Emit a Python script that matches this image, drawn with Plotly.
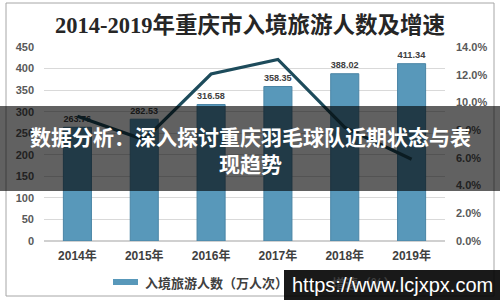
import plotly.graph_objects as go

years = ["2014年", "2015年", "2016年", "2017年", "2018年", "2019年"]
visitors = [263.76, 282.53, 316.58, 358.35, 388.02, 411.34]
growth = [0.090, 0.073, 0.1205, 0.131, 0.082, 0.059]
left_ticks = [0, 50, 100, 150, 200, 250, 300, 350, 400, 450]
right_ticks = [0, 0.02, 0.04, 0.06, 0.08, 0.10, 0.12, 0.14]

title_text = "2014-2019年重庆市入境旅游人数及增速"
bar_name = "入境旅游人数（万人次）"
line_name = "增速（%）"
banner_text = "数据分析：深入探讨重庆羽毛球队近期状态与表<br>现趋势"
watermark = "https://www.lcjxpx.com"

W, H = 500, 300
ML, MR, MT, MB = 44, 55, 47, 59

fig = go.Figure()
fig.add_trace(go.Bar(
    x=years, y=visitors, name=bar_name,
    marker=dict(color="#5898ba", line=dict(color="#4a85a5", width=1)),
    text=[f"{v:.2f}" for v in visitors], textposition="outside",
    textfont=dict(family="Liberation Sans", size=12, color="#404040", weight="bold"),
    cliponaxis=False, width=0.42, showlegend=False,
))
fig.add_trace(go.Scatter(
    x=years, y=growth, name=line_name, yaxis="y2", mode="lines",
    line=dict(color="#1d4b5b", width=3.2), showlegend=False,
))

tickfont = dict(family="Liberation Sans", size=11, color="#595959", weight="bold")
fig.update_layout(
    width=W, height=H, margin=dict(l=ML, r=MR, t=MT, b=MB),
    paper_bgcolor="white", plot_bgcolor="white",
    bargap=0.58,
    xaxis=dict(showgrid=False, showline=False, ticks="", ticklabelstandoff=6,
               tickfont=dict(family="Liberation Sans, Noto Sans CJK SC", size=12, color="#404040", weight="bold")),
    yaxis=dict(range=[0, 450], tickvals=left_ticks, showgrid=True, gridcolor="#d9d9d9",
               gridwidth=1, zeroline=True, zerolinecolor="#d0d0d0", showline=False,
               ticks="", ticklabelstandoff=9, tickfont=tickfont),
    yaxis2=dict(range=[0, 0.14], tickvals=right_ticks, tickformat=".1%", overlaying="y",
                side="right", showgrid=False, zeroline=False, showline=False, ticks="",
                ticklabelstandoff=10, tickfont=tickfont),
    showlegend=False,
    shapes=[
        dict(type="rect", xref="paper", yref="paper", layer="below",
             x0=(6 - ML) / (W - ML - MR), x1=(494 - ML) / (W - ML - MR),
             y0=(H - MB - 296) / (H - MT - MB), y1=(H - MB - 3) / (H - MT - MB),
             line=dict(color="#a6a6a6", width=1), fillcolor="rgba(0,0,0,0)"),
        # legend symbol
        dict(type="rect", xref="paper", yref="paper", layer="above",
             x0=(113 - ML) / (W - ML - MR), x1=(138 - ML) / (W - ML - MR),
             y0=(H - MB - 285) / (H - MT - MB), y1=(H - MB - 279) / (H - MT - MB),
             line=dict(width=0), fillcolor="#5898ba"),
        dict(type="line", xref="paper", yref="paper", layer="above",
             x0=(300 - ML) / (W - ML - MR), x1=(325 - ML) / (W - ML - MR),
             y0=(H - MB - 282) / (H - MT - MB), y1=(H - MB - 282) / (H - MT - MB),
             line=dict(color="#1d4b5b", width=3)),
        # banner
        dict(type="rect", xref="paper", yref="paper", layer="above",
             x0=-ML / (W - ML - MR), x1=(W - ML) / (W - ML - MR),
             y0=(H - MB - 191) / (H - MT - MB), y1=(H - MB - 106) / (H - MT - MB),
             line=dict(width=0), fillcolor="rgba(0,0,0,0.62)"),
        # watermark box
        dict(type="rect", xref="paper", yref="paper", layer="above",
             x0=(284 - ML) / (W - ML - MR), x1=(W - ML) / (W - ML - MR),
             y0=(H - MB - 300) / (H - MT - MB), y1=(H - MB - 270) / (H - MT - MB),
             line=dict(width=0), fillcolor="rgba(0,0,0,0.9)"),
    ],
    annotations=[
        dict(text=title_text, xref="paper", yref="paper",
             x=(250.5 - ML) / (W - ML - MR), y=(H - MB - 25) / (H - MT - MB),
             xanchor="center", yanchor="middle", showarrow=False,
             font=dict(family="Liberation Serif, Noto Sans CJK SC", size=22.5, color="#262626", weight="bold")),
        dict(text=bar_name, xref="paper", yref="paper",
             x=(143 - ML) / (W - ML - MR), y=(H - MB - 282) / (H - MT - MB),
             xanchor="left", yanchor="middle", showarrow=False,
             font=dict(family="Noto Sans CJK SC", size=13, color="#404040", weight="bold")),
        dict(text=line_name, xref="paper", yref="paper",
             x=(330 - ML) / (W - ML - MR), y=(H - MB - 282) / (H - MT - MB),
             xanchor="left", yanchor="middle", showarrow=False,
             font=dict(family="Noto Sans CJK SC", size=13, color="#404040", weight="bold")),
        dict(text=banner_text, xref="paper", yref="paper",
             x=(250 - ML) / (W - ML - MR), y=(H - MB - 149) / (H - MT - MB),
             xanchor="center", yanchor="middle", showarrow=False, align="center",
             font=dict(family="Noto Sans CJK SC", size=21, color="white", weight="bold")),
        dict(text=watermark, xref="paper", yref="paper",
             x=(392 - ML) / (W - ML - MR), y=(H - MB - 285) / (H - MT - MB),
             xanchor="center", yanchor="middle", showarrow=False,
             font=dict(family="Liberation Sans", size=20, color="white")),
    ],
)

fig.write_html("out.html")
